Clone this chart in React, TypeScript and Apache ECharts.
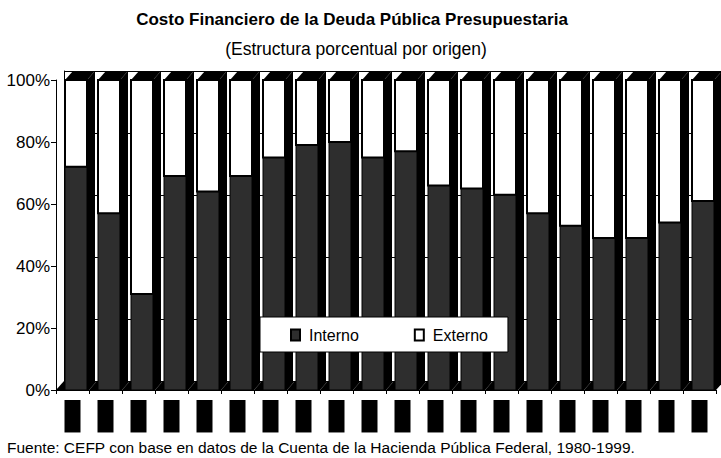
import React, { useEffect, useRef } from "react";
import * as echarts from "echarts";

const years = ["1980","1981","1982","1983","1984","1985","1986","1987","1988","1989","1990","1991","1992","1993","1994","1995","1996","1997","1998","1999"];
const interno = [72, 57, 31, 69, 64, 69, 75, 79, 80, 75, 77, 66, 65, 63, 57, 53, 49, 49, 54, 61];
const externo = [28, 43, 69, 31, 36, 31, 25, 21, 20, 25, 23, 34, 35, 37, 43, 47, 51, 51, 46, 39];
const yTicks = [0, 20, 40, 60, 80, 100];

const FONT = "'Liberation Sans Narrow', 'Liberation Sans', Arial, sans-serif";
const DARK = "#2e2e2e";
const DX = 8;
const DY = -9;
const FACE_OFF = -7.5;
const FACE_W = 22;

export default function App() {
  const ref = useRef<HTMLDivElement>(null);
  useEffect(() => {
    if (!ref.current) return;
    const chart = echarts.init(ref.current, undefined, { renderer: "svg" });
    const internoData = interno.map((v, i) => [i, v]);
    const externoData = interno.map((v, i) => [i, v, v + externo[i]]);
    chart.setOption({
      animation: false,
      backgroundColor: "#fff",
      title: [
        { text: "Costo Financiero de la Deuda Pública Presupuestaria", left: 347, top: 6, textAlign: "center",
          textStyle: { fontFamily: FONT, fontSize: 17, fontWeight: "bold", color: "#000" } },
        { text: "(Estructura porcentual por origen)", left: 351, top: 35, textAlign: "center",
          textStyle: { fontFamily: FONT, fontSize: 17.5, fontWeight: "normal", color: "#000" } },
        { text: "Fuente: CEFP con base en datos de la Cuenta de la Hacienda Pública Federal, 1980-1999.", left: 2, top: 434,
          textStyle: { fontFamily: FONT, fontSize: 15.5, fontWeight: "normal", color: "#000" } },
      ],
      legend: {
        data: ["Interno", "Externo"],
        left: 260, top: 317,
        z: 20,
        orient: "horizontal",
        backgroundColor: "#fff",
        borderColor: "#000",
        borderWidth: 1,
        padding: [10, 20, 9, 30],
        itemGap: 55,
        itemWidth: 9,
        itemHeight: 11,
        icon: "rect",
        textStyle: { fontFamily: FONT, fontSize: 16, color: "#000", padding: [0, 0, 0, 4] },
      },
      grid: [
        { left: 56, width: 660, top: 80, height: 310 },
        { left: 56 + DX, width: 660, top: 80 + DY, height: 310 },
      ],
      xAxis: [
        { type: "category", data: years, gridIndex: 0,
          axisLine: { show: true, lineStyle: { color: "#000", width: 1 } },
          axisTick: { show: true, length: 4, lineStyle: { color: "#000" } },
          axisLabel: { color: "#000", backgroundColor: "#000", fontSize: 11, fontFamily: FONT,
            rotate: 90, padding: [3, 3, 2, 5], margin: 10, interval: 0 } },
        { type: "category", data: years, gridIndex: 1, show: false },
      ],
      yAxis: [
        { type: "value", gridIndex: 0, min: 0, max: 100, interval: 20,
          axisLine: { show: true, lineStyle: { color: "#000", width: 1 } },
          axisTick: { show: true, length: 5, lineStyle: { color: "#000" } },
          splitLine: { show: false },
          axisLabel: { formatter: (v: number) => (yTicks.includes(v) ? v + "%" : ""), color: "#000",
            fontSize: 17, fontFamily: FONT, margin: 6 } },
        { type: "value", gridIndex: 1, min: 0, max: 100, interval: 20,
          axisLine: { show: true, lineStyle: { color: "#000", width: 1 } },
          axisTick: { show: false }, axisLabel: { show: false },
          splitLine: { show: true, lineStyle: { color: "#000", width: 1 } } },
      ],
      series: [
        {
          name: "Interno",
          type: "custom",
          xAxisIndex: 0, yAxisIndex: 0,
          itemStyle: { color: DARK, borderColor: "#000", borderWidth: 1 },
          encode: { x: 0, y: 1 },
          data: internoData,
          renderItem: (params: any, api: any) => {
            const i = api.value(0);
            const v = api.value(1);
            const c0 = api.coord([i, 0]);
            const c1 = api.coord([i, v]);
            const half = api.size([1, 0])[0] / 2;
            const x0 = c0[0] + FACE_OFF;
            return {
              type: "group",
              children: [
                { type: "polygon", shape: { points: [[c0[0] - half, c0[1]], [c0[0] + half, c0[1]], [c0[0] + half + DX, c0[1] + DY], [c0[0] - half + DX, c0[1] + DY]] },
                  style: { fill: "#000" } },
                { type: "rect", shape: { x: x0, y: c1[1], width: FACE_W, height: c0[1] - c1[1] },
                  style: { fill: DARK, stroke: "#000", lineWidth: 1 } },
              ],
            };
          },
          z: 3,
        },
        {
          name: "Externo",
          type: "custom",
          xAxisIndex: 0, yAxisIndex: 0,
          itemStyle: { color: "#fff", borderColor: "#000", borderWidth: 2 },
          encode: { x: 0, y: [1, 2] },
          data: externoData,
          renderItem: (params: any, api: any) => {
            const i = api.value(0);
            const lo = api.value(1);
            const hi = api.value(2);
            const c0 = api.coord([i, 0]);
            const c1 = api.coord([i, lo]);
            const c2 = api.coord([i, hi]);
            const x0 = c0[0] + FACE_OFF;
            const x1 = x0 + FACE_W;
            return {
              type: "group",
              children: [
                { type: "rect", shape: { x: x0, y: c2[1], width: FACE_W, height: c1[1] - c2[1] },
                  style: { fill: "#fff", stroke: "#000", lineWidth: 2 } },
                { type: "polygon", shape: { points: [[x1, c2[1]], [x1 + DX, c2[1] + DY], [x1 + DX, c0[1] + DY], [x1, c0[1]]] },
                  style: { fill: "#000" } },
                { type: "polygon", shape: { points: [[x0, c2[1]], [x0 + DX, c2[1] + DY], [x1 + DX, c2[1] + DY], [x1, c2[1]]] },
                  style: { fill: "#000" } },
              ],
            };
          },
          z: 4,
        },
      ],
    });
    return () => chart.dispose();
  }, []);
  return <div ref={ref} style={{ width: 721, height: 458, position: "absolute", left: 0, top: 0 }} />;
}
